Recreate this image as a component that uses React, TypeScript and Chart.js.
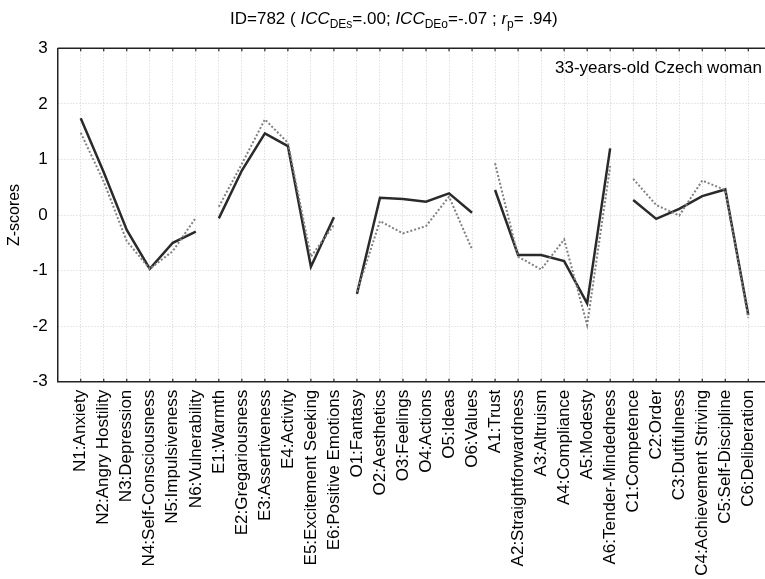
import React, { useEffect, useRef } from "react";
import { Chart, registerables } from "chart.js";

Chart.register(...registerables);

const categories: string[] = [
  "N1:Anxiety", "N2:Angry Hostility", "N3:Depression", "N4:Self-Consciousness", "N5:Impulsiveness", "N6:Vulnerability",
  "E1:Warmth", "E2:Gregariousness", "E3:Assertiveness", "E4:Activity", "E5:Excitement Seeking", "E6:Positive Emotions",
  "O1:Fantasy", "O2:Aesthetics", "O3:Feelings", "O4:Actions", "O5:Ideas", "O6:Values",
  "A1:Trust", "A2:Straightforwardness", "A3:Altruism", "A4:Compliance", "A5:Modesty", "A6:Tender-Mindedness",
  "C1:Competence", "C2:Order", "C3:Dutifulness", "C4:Achievement Striving", "C5:Self-Discipline", "C6:Deliberation",
];

const selfScores: number[] = [
  1.74, 0.77, -0.27, -0.97, -0.5, -0.3,
  -0.06, 0.8, 1.47, 1.24, -0.93, -0.04,
  -1.42, 0.31, 0.29, 0.24, 0.39, 0.04,
  0.45, -0.72, -0.72, -0.83, -1.59, 1.2,
  0.27, -0.07, 0.11, 0.34, 0.46, -1.8,
];

const otherScores: number[] = [
  1.48, 0.6, -0.47, -0.97, -0.65, -0.05,
  0.15, 0.92, 1.72, 1.3, -0.75, -0.18,
  -1.38, -0.11, -0.33, -0.2, 0.33, -0.62,
  0.93, -0.75, -0.98, -0.44, -1.98, 0.88,
  0.65, 0.18, -0.01, 0.62, 0.45, -1.85,
];

const yTicks: number[] = [-3, -2, -1, 0, 1, 2, 3];
const groupSize = 6;
const annotation = "33-years-old Czech woman";
const FONT = '"Liberation Sans", Arial, sans-serif';
const FS = 17;

const framePlugin = {
  id: "frame",
  afterDraw(chart: any) {
    const { ctx, chartArea, scales } = chart;
    ctx.save();
    ctx.strokeStyle = "#222";
    ctx.lineWidth = 1.5;
    ctx.beginPath();
    ctx.moveTo(chartArea.left, chartArea.top);
    ctx.lineTo(chartArea.right, chartArea.top);
    ctx.stroke();
    ctx.lineWidth = 1.2;
    categories.forEach((_, i) => {
      const x = scales.x.getPixelForValue(i + 1);
      ctx.beginPath();
      ctx.moveTo(x, chartArea.top);
      ctx.lineTo(x, chartArea.top + 3);
      ctx.moveTo(x, chartArea.bottom);
      ctx.lineTo(x, chartArea.bottom - 3);
      ctx.stroke();
    });
    ctx.fillStyle = "#000";
    ctx.font = FS + "px " + FONT;
    ctx.textAlign = "left";
    ctx.textBaseline = "alphabetic";
    ctx.fillText(annotation, 555, 72.5);
    ctx.restore();
  },
};

function App() {
  const ref = useRef<HTMLCanvasElement | null>(null);
  useEffect(() => {
    if (!ref.current) return;
    const mk = (vals: number[]) => vals.map((v, i) => ({ x: i + 1, y: v }));
    const seg = (color: string) => (ctx: any) =>
      ctx.p0DataIndex % groupSize === groupSize - 1 ? "rgba(0,0,0,0)" : color;
    const chart = new Chart(ref.current, {
      type: "line",
      data: {
        datasets: [
          {
            label: "other",
            data: mk(otherScores),
            borderColor: "#808080",
            borderWidth: 2,
            borderDash: [2, 2],
            pointRadius: 0,
            tension: 0,
            segment: { borderColor: seg("#808080") },
          },
          {
            label: "self",
            data: mk(selfScores),
            borderColor: "#2a2a2a",
            borderWidth: 2.5,
            pointRadius: 0,
            tension: 0,
            segment: { borderColor: seg("#2a2a2a") },
          },
        ],
      },
      options: {
        animation: false,
        responsive: false,
        devicePixelRatio: 1,
        layout: { padding: { top: 48.3, right: 28.7, left: 0, bottom: 0 } },
        plugins: { legend: { display: false }, tooltip: { enabled: false }, title: { display: false } },
        scales: {
          x: {
            type: "linear",
            min: 0,
            max: 31,
            afterBuildTicks: (s: any) => {
              s.ticks = categories.map((_, i) => ({ value: i + 1 }));
            },
            afterFit: (s: any) => {
              s.height = 579 - 381.7;
            },
            ticks: {
              autoSkip: false,
              maxRotation: 90,
              minRotation: 90,
              padding: 8,
              color: "#000",
              font: { size: FS, family: FONT },
              callback: (v: any) => categories[Number(v) - 1] ?? "",
            },
            grid: { color: "#d0d0d0", lineWidth: 1, drawTicks: false },
            border: { color: "#222", width: 1.5, dash: [1, 2] },
          },
          y: {
            min: -3,
            max: 3,
            afterBuildTicks: (s: any) => {
              s.ticks = yTicks.map((v) => ({ value: v }));
            },
            afterFit: (s: any) => {
              s.width = 57.7;
            },
            ticks: {
              padding: 10,
              color: "#000",
              font: { size: FS, family: FONT },
              callback: (v: any) => String(v),
            },
            grid: { color: "#d0d0d0", lineWidth: 1, drawTicks: false },
            border: { color: "#222", width: 1.5, dash: [1, 2] },
            title: {
              display: true,
              text: "Z-scores",
              color: "#000",
              font: { size: 16, family: FONT },
              padding: { top: 5, bottom: 0 },
            },
          },
        },
      },
      plugins: [framePlugin],
    } as any);
    return () => chart.destroy();
  }, []);

  const subStyle = { fontSize: 12, lineHeight: 0 };
  return (
    <div style={{ position: "fixed", left: 0, top: 0, width: 765, height: 579, overflow: "hidden", background: "#fff" }}>
      <canvas ref={ref} width={800} height={579} style={{ position: "absolute", left: 0, top: 0, width: 800, height: 579 }} />
      <div
        style={{
          position: "absolute",
          left: 230,
          top: 9,
          fontFamily: FONT,
          fontSize: FS,
          lineHeight: "20px",
          whiteSpace: "nowrap",
          color: "#000",
        }}
      >
        ID=782 ( <i>ICC</i>
        <sub style={subStyle}>DEs</sub>=.00; <i>ICC</i>
        <sub style={subStyle}>DEo</sub>=-.07 ; <i>r</i>
        <sub style={subStyle}>p</sub>= .94)
      </div>
    </div>
  );
}

export default App;
